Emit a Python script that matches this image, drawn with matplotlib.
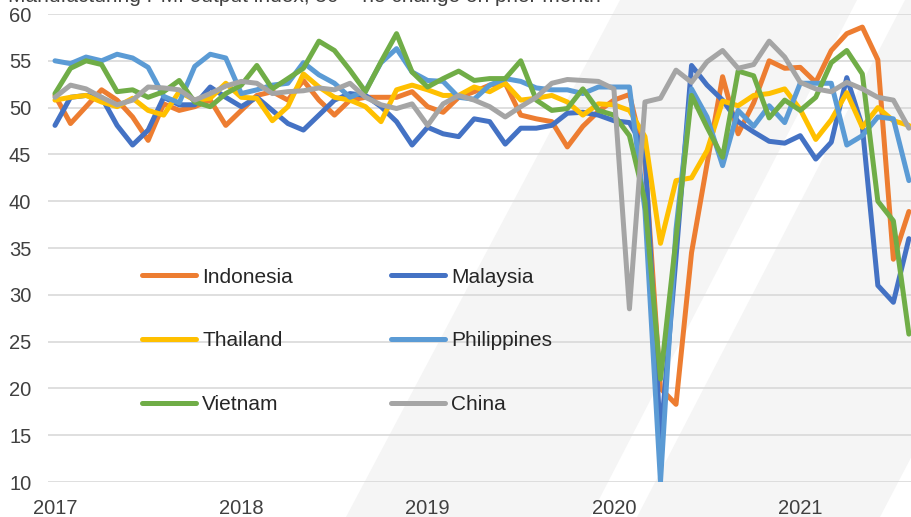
import matplotlib.pyplot as plt
import numpy as np
from matplotlib.patches import Polygon

plt.rcParams['font.family'] = ['Liberation Sans', 'DejaVu Sans']

# Monthly PMI output index, Jan 2017 - Aug 2021
years = ['2017', '2018', '2019', '2020', '2021']
year_start = [0, 12, 24, 36, 48]

indonesia = [51.3, 48.3, 50.1, 51.9, 50.8, 49.0, 46.5, 50.4, 49.7, 50.1, 50.8, 48.1,
             49.7, 51.3, 51.7, 50.8, 52.9, 50.8, 49.2, 50.8, 51.1, 51.1, 51.1, 51.7,
             50.1, 49.5, 51.1, 51.7, 52.4, 52.6, 49.2, 48.8, 48.5, 45.8, 48.0, 49.6,
             50.8, 51.4, 44.5, 20.0, 18.3, 34.5, 44.0, 53.3, 47.2, 50.5, 55.0, 54.2,
             54.3, 52.7, 56.1, 57.9, 58.6, 55.1, 33.8, 38.9]
malaysia = [48.1, 51.1, 51.3, 51.1, 48.1, 46.0, 47.6, 51.1, 50.3, 50.3, 52.2, 51.1,
            50.1, 51.1, 49.7, 48.3, 47.6, 49.2, 50.8, 51.5, 51.3, 50.1, 48.5, 46.0,
            47.9, 47.2, 46.9, 48.8, 48.5, 46.1, 47.8, 47.8, 48.1, 49.4, 49.5, 49.2,
            48.6, 48.4, 45.5, 14.5, 34.0, 54.5, 52.4, 50.8, 48.5, 47.4, 46.4, 46.2,
            47.0, 44.5, 46.3, 53.2, 48.0, 31.0, 29.2, 36.0]
thailand = [50.8, 51.1, 51.3, 50.6, 50.1, 51.0, 49.7, 49.2, 51.7, 50.8, 51.0, 52.6,
            51.1, 51.0, 48.6, 50.1, 53.6, 52.2, 51.1, 50.8, 50.1, 48.5, 51.9, 52.4,
            51.9, 51.3, 51.3, 52.2, 51.7, 52.6, 50.8, 51.0, 51.3, 50.6, 49.2, 50.4,
            50.3, 49.7, 46.9, 35.5, 42.2, 42.5, 45.4, 50.7, 50.2, 51.3, 51.5, 52.0,
            49.8, 46.6, 48.7, 51.6, 47.9, 50.0, 48.6, 48.1]
philippines = [55.0, 54.7, 55.4, 55.0, 55.7, 55.3, 54.3, 51.2, 50.5, 54.4, 55.7, 55.3,
               51.5, 51.9, 52.4, 52.6, 54.8, 53.5, 52.6, 51.1, 51.8, 54.8, 56.3, 53.8,
               52.9, 52.8, 51.1, 50.9, 52.4, 53.1, 52.8, 52.1, 51.9, 51.9, 51.5, 52.2,
               52.2, 52.2, 39.0, 10.0, 37.0, 52.0, 49.0, 43.8, 49.7, 48.0, 50.2, 48.4,
               52.6, 52.6, 52.6, 46.0, 47.0, 49.0, 48.8, 42.2]
vietnam = [51.5, 54.2, 55.0, 54.6, 51.7, 51.9, 51.1, 51.7, 52.9, 50.6, 50.1, 51.5,
           52.4, 54.5, 52.0, 53.1, 54.2, 57.1, 56.1, 54.0, 51.7, 54.9, 57.9, 53.8,
           52.2, 53.1, 53.9, 52.9, 53.1, 53.1, 55.0, 50.8, 49.7, 49.9, 52.0, 49.7,
           49.2, 47.0, 40.0, 21.0, 36.0, 51.3, 47.9, 44.7, 53.9, 53.4, 48.9, 50.8,
           49.7, 51.1, 54.8, 56.1, 53.6, 40.0, 37.9, 25.8]
china = [51.1, 52.4, 52.0, 51.1, 50.3, 50.8, 52.2, 52.1, 51.9, 50.8, 51.5, 52.3,
         52.8, 52.6, 51.5, 51.7, 51.8, 52.1, 51.9, 52.6, 51.1, 50.3, 49.9, 50.4,
         48.1, 50.4, 51.3, 50.8, 50.1, 49.0, 50.1, 51.1, 52.6, 53.0, 52.9, 52.8,
         52.0, 28.5, 50.6, 51.0, 54.0, 52.7, 54.9, 56.1, 54.2, 54.6, 57.1, 55.4,
         52.7, 52.0, 51.7, 52.7, 52.0, 51.1, 50.8, 47.8]

series = [('Indonesia', indonesia, '#ED7D31'),
          ('Malaysia', malaysia, '#4472C4'),
          ('Thailand', thailand, '#FFC000'),
          ('Philippines', philippines, '#5B9BD5'),
          ('Vietnam', vietnam, '#70AD47'),
          ('China', china, '#A5A5A5')]

W, H = 912, 517
fig = plt.figure(figsize=(W / 100, H / 100), dpi=100)

# decorative slanted background bands (pixel space)
bg = fig.add_axes([0, 0, 1, 1], zorder=0)
bg.set_xlim(0, W)
bg.set_ylim(H, 0)
bg.axis('off')
for (t0, t1), (b0, b1) in [((620, 857), (346, 590)), ((905, 1150), (637, 880))]:
    bg.add_patch(Polygon([(t0, 0), (t1, 0), (b1, H), (b0, H)],
                         closed=True, facecolor='#f5f5f5', edgecolor='none'))

ax = fig.add_axes([48 / W, 35 / H, 864 / W, 468 / H], zorder=1)
ax.patch.set_alpha(0)

x = np.arange(len(china))
lines = {}
for name, vals, col in series:
    lines[name], = ax.plot(x, vals, color=col, lw=3.6, label=name,
                           solid_joinstyle='round', solid_capstyle='round')

ax.set_ylim(10, 60)
ax.set_yticks(range(10, 61, 5))
ax.set_xlim(-0.45, 55.2)
ax.set_xticks(year_start)
ax.set_xticklabels(years)
ax.grid(axis='y', color='#d9d9d9', lw=1.2)
ax.set_axisbelow(True)
for s in ax.spines.values():
    s.set_visible(False)
ax.tick_params(length=0, labelsize=14.5, labelcolor='#404040')
ax.tick_params(axis='y', pad=12)
ax.tick_params(axis='x', pad=12)

# legend filled row by row: two columns
order = ['Indonesia', 'Thailand', 'Vietnam', 'Malaysia', 'Philippines', 'China']
leg = ax.legend([lines[n] for n in order], order, ncol=2, loc='center',
                bbox_to_anchor=(347 / W, 1 - 341 / H),
                bbox_transform=fig.transFigure, frameon=False, fontsize=15,
                handlelength=2.6, handletextpad=0.3, columnspacing=4.7,
                labelspacing=2.15, borderpad=0)
for t in leg.get_texts():
    t.set_color('#262626')

# subtitle, partly cropped at the top edge as in the source image
fig.text(8 / W, 1 - 2 / H, 'Manufacturing PMI output index, 50 = no change on prior month',
         fontsize=15, color='#404040', va='baseline', ha='left')

fig.savefig('out.png', dpi=100)
